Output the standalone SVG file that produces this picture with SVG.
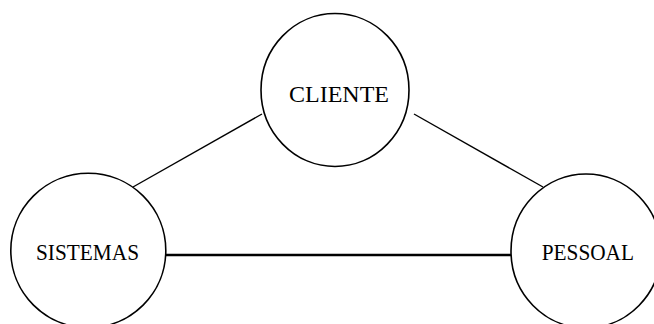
<svg xmlns="http://www.w3.org/2000/svg" width="654" height="324" viewBox="0 0 654 324">
  <style>
    .node { fill: #ffffff; stroke: #000000; stroke-width: 1.6; }
    .label { font-family: "Liberation Serif", "Times New Roman", serif; font-size: 23.5px; fill: #000000; }
    .link { stroke: #000000; stroke-width: 1.4; fill: none; }
    .link-strong { stroke: #000000; stroke-width: 2.6; fill: none; }
  </style>
  <rect width="654" height="324" fill="#ffffff"/>
  <g id="connectors">
    <line class="link" x1="262" y1="114" x2="133" y2="187"/>
    <line class="link" x1="414" y1="114" x2="543" y2="187"/>
    <line class="link-strong" x1="165" y1="255" x2="512" y2="255"/>
  </g>
  <g id="cliente">
    <ellipse class="node" cx="335" cy="90" rx="74" ry="76.5"/>
    <text class="label" x="289" y="101.7" textLength="100" lengthAdjust="spacingAndGlyphs">CLIENTE</text>
  </g>
  <g id="sistemas">
    <ellipse class="node" cx="88.3" cy="250.5" rx="77.5" ry="77.2"/>
    <text class="label" x="36" y="260" textLength="103" lengthAdjust="spacingAndGlyphs">SISTEMAS</text>
  </g>
  <g id="pessoal">
    <ellipse class="node" cx="586" cy="251" rx="75" ry="77"/>
    <text class="label" x="541.7" y="259.5" textLength="92.3" lengthAdjust="spacingAndGlyphs">PESSOAL</text>
  </g>
</svg>
